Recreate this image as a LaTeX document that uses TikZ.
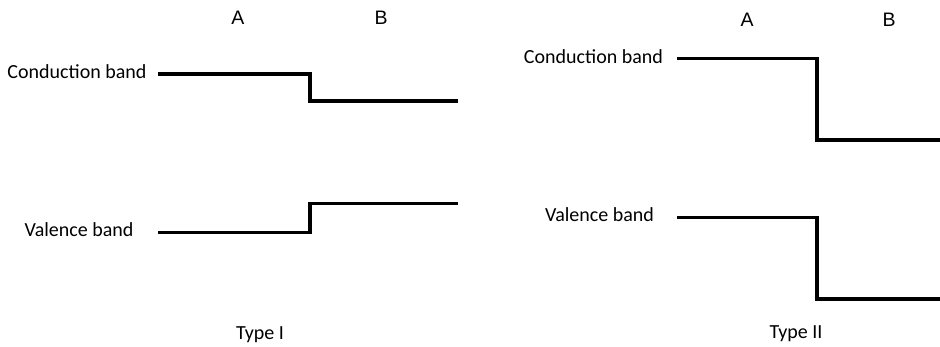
\documentclass[tikz,border=0pt]{standalone}
\usepackage{fontspec}
\setmainfont{Carlito}
\newfontfamily\arialfont{Liberation Sans}
\begin{document}
\begin{tikzpicture}[x=1pt,y=-1pt,
  lbl/.style={inner sep=0pt,anchor=base,font=\fontsize{20}{24}\selectfont},
  side/.style={inner sep=0pt,anchor=base,font=\arialfont\fontsize{19.5}{23}\selectfont},
  band/.style={line width=3.6pt,line cap=butt,line join=miter}]
\useasboundingbox (0,0) rectangle (940,347);

% ---- Type I (straddling) ----
\node[side] (aI) at (238,25) {A};
\node[side] (bI) at (381,25) {B};
\node[lbl] (cbI) at (77,79) {Conduction band};
\node[lbl] (vbI) at (79,237) {Valence band};
\node[lbl] (tI) at (260,340) {Type I};
\coordinate (cbIs) at (158,74);
\coordinate (vbIs) at (158,232.5);
\draw[band] (cbIs) -- (310,74) -- (310,101) -- (458,101);
\draw[band] (vbIs) -- (310,232.5) -- (310,203.5) -- (458,203.5);

% ---- Type II (staggered) ----
\node[side] (aII) at (747,27) {A};
\node[side] (bII) at (889,27) {B};
\node[lbl] (cbII) at (593.5,64) {Conduction band};
\node[lbl] (vbII) at (599.5,222) {Valence band};
\node[lbl] (tII) at (796,338) {Type II};
\coordinate (cbIIs) at (677,58.5);
\coordinate (vbIIs) at (677,217.5);
\draw[band] (cbIIs) -- (817,58.5) -- (817,140) -- (940,140);
\draw[band] (vbIIs) -- (817,217.5) -- (817,299) -- (940,299);
\end{tikzpicture}
\end{document}
